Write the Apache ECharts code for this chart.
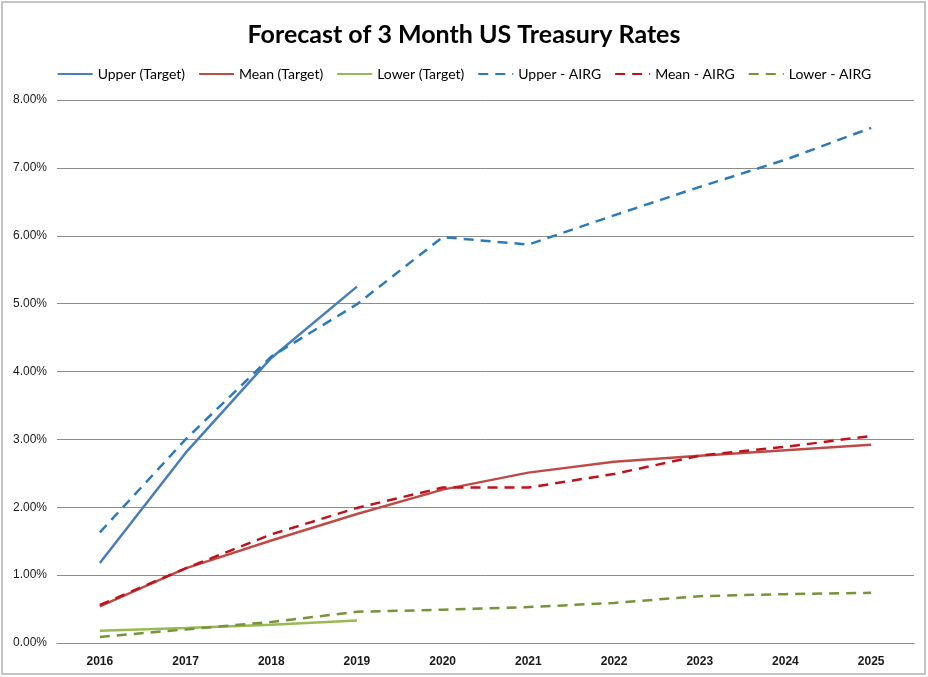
<!DOCTYPE html>
<html>
<head>
<meta charset="utf-8">
<title>Forecast of 3 Month US Treasury Rates</title>
<script src="https://cdn.jsdelivr.net/npm/echarts@6/dist/echarts.min.js"></script>
<style>
  html, body { margin: 0; padding: 0; background: #ffffff; }
  #chart { width: 928px; height: 677px; }
</style>
</head>
<body>
<div id="chart"></div>
<script>
// Forecast years
const years = ['2016', '2017', '2018', '2019', '2020', '2021', '2022', '2023', '2024', '2025'];

// Target forecasts (percent), only published through 2019
const upperTarget = [1.18, 2.80, 4.20, 5.25, null, null, null, null, null, null];
const meanTarget  = [0.54, 1.10, 1.51, 1.90, 2.26, 2.51, 2.67, 2.76, 2.84, 2.92];
const lowerTarget = [0.18, 0.22, 0.27, 0.33, null, null, null, null, null, null];

// AIRG scenario forecasts (percent)
const upperAIRG = [1.63, 3.00, 4.22, 4.99, 5.98, 5.87, 6.30, 6.72, 7.12, 7.59];
const meanAIRG  = [0.56, 1.10, 1.60, 1.99, 2.29, 2.29, 2.49, 2.76, 2.89, 3.05];
const lowerAIRG = [0.09, 0.20, 0.31, 0.46, 0.49, 0.53, 0.59, 0.69, 0.72, 0.74];

// Y axis ticks (percent)
const yTicks = [0, 1, 2, 3, 4, 5, 6, 7, 8];

const seriesDefs = [
  { name: 'Upper (Target)', data: upperTarget, color: '#4a7ebb', dash: 'solid' },
  { name: 'Mean (Target)',  data: meanTarget,  color: '#be4b48', dash: 'solid' },
  { name: 'Lower (Target)', data: lowerTarget, color: '#98b954', dash: 'solid' },
  { name: 'Upper - AIRG',   data: upperAIRG,   color: '#2b7bba', dash: [10, 7] },
  { name: 'Mean - AIRG',    data: meanAIRG,    color: '#c0121b', dash: [10, 7] },
  { name: 'Lower - AIRG',   data: lowerAIRG,   color: '#77933c', dash: [10, 7] }
];

const chart = echarts.init(document.getElementById('chart'), null, { renderer: 'canvas' });

chart.setOption({
  backgroundColor: '#ffffff',
  animation: false,
  title: {
    text: 'Forecast of 3 Month US Treasury Rates',
    left: 'center',
    top: 17,
    textStyle: {
      fontFamily: 'Lato',
      fontSize: 25,
      fontWeight: 'bold',
      color: '#000000'
    }
  },
  legend: {
    top: 62,
    left: 'center',
    itemWidth: 35,
    itemHeight: 12,
    itemGap: 13,
    // line-only keys: hide the marker drawn in the middle of each key
    itemStyle: { color: 'rgba(0,0,0,0)', borderWidth: 0, opacity: 0 },
    textStyle: {
      fontFamily: 'Lato',
      fontSize: 14,
      color: '#000000'
    },
    data: seriesDefs.map(s => s.name)
  },
  grid: {
    left: 57,
    right: 14,
    top: 100,
    bottom: 34,
    containLabel: false
  },
  xAxis: {
    type: 'category',
    data: years,
    boundaryGap: true,
    axisLine: { show: true, lineStyle: { color: '#8c8c8c', width: 1 } },
    axisTick: { show: false },
    axisLabel: {
      margin: 13,
      fontFamily: 'Liberation Sans',
      fontSize: 12,
      fontWeight: 'bold',
      color: '#1a1a1a'
    },
    splitLine: { show: false }
  },
  yAxis: {
    type: 'value',
    min: yTicks[0],
    max: yTicks[yTicks.length - 1],
    interval: 1,
    axisLine: { show: false },
    axisTick: { show: false },
    axisLabel: {
      margin: 10,
      fontFamily: 'Liberation Sans',
      fontSize: 12,
      color: '#1a1a1a',
      formatter: v => v.toFixed(2) + '%'
    },
    splitLine: { show: true, lineStyle: { color: '#8c8c8c', width: 1 } }
  },
  series: seriesDefs.map(s => ({
    name: s.name,
    type: 'line',
    data: s.data,
    symbol: 'none',
    connectNulls: false,
    color: s.color,
    lineStyle: { color: s.color, width: 2.5, type: s.dash, cap: 'butt' },
    emphasis: { disabled: true }
  })),
  graphic: [{
    type: 'rect',
    shape: { x: 2, y: 2, width: 923, height: 672 },
    style: { fill: 'none', stroke: '#c4c4c4', lineWidth: 2 },
    silent: true,
    z: 100
  }]
});
</script>
</body>
</html>
